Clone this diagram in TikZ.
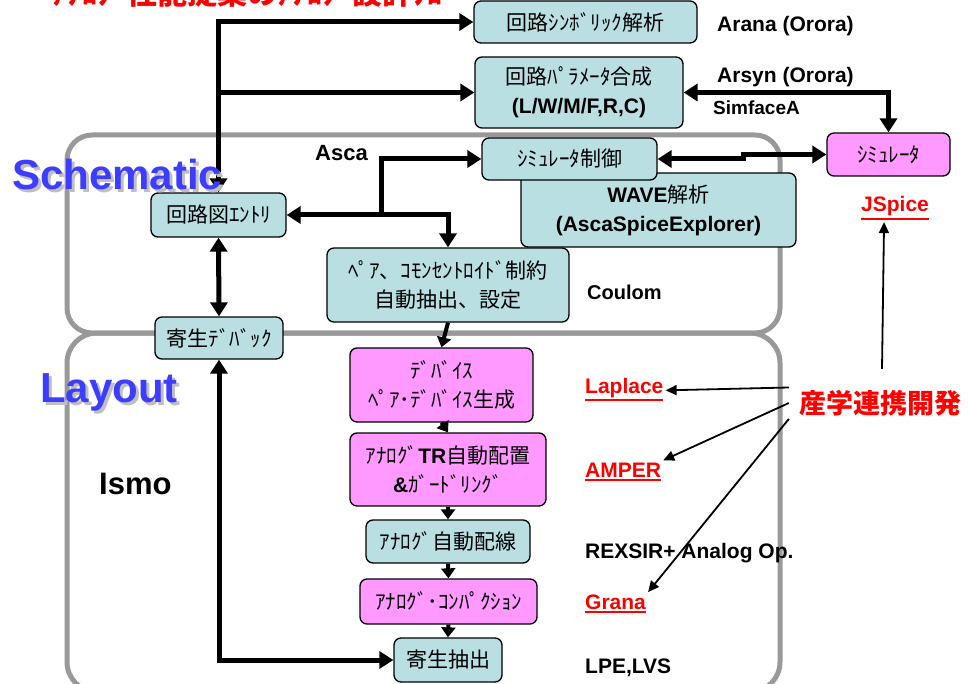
\documentclass[tikz,border=0pt]{standalone}
\usepackage{fontspec}
\setmainfont{Liberation Sans}
\newfontfamily\jpfont{Noto Sans CJK JP}
\usepackage{tikz}
\usetikzlibrary{arrows.meta}
\definecolor{boxteal}{RGB}{185, 223, 226}
\definecolor{boxpink}{RGB}{255, 153, 255}
\definecolor{groupgray}{RGB}{153, 153, 153}
\definecolor{headblue}{RGB}{61, 61, 255}
\newcommand{\en}[1]{{\rmfamily\bfseries #1}}
\newcommand{\undl}[1]{\vtop{\hbox{#1}\kern 1.5pt\hrule height 2pt}}
\tikzset{box/.style = {shape = rectangle, draw, line width = 1.3pt, rounded corners = 7pt, inner sep = 0pt, align = center, font = \jpfont\fontsize{21}{29}\selectfont}}
\tikzset{tealbox/.style = {box, fill = boxteal}}
\tikzset{pinkbox/.style = {box, fill = boxpink}}
\tikzset{edge/.style = {line width = 5pt, -{Triangle[length = 14pt, width = 17pt]}}}
\tikzset{twoway/.style = {line width = 5pt, {Triangle[length = 14pt, width = 17pt]}-{Triangle[length = 14pt, width = 17pt]}}}
\tikzset{chainedge/.style = {line width = 4pt, -{Triangle[length = 10pt, width = 14pt]}}}
\tikzset{thinedge/.style = {line width = 1.8pt, -{Triangle[length = 11pt, width = 10pt]}}}
\tikzset{group/.style = {draw = groupgray, line width = 5pt}}
\tikzset{tool/.style = {anchor = base west, inner sep = 2pt, font = \bfseries\fontsize{21}{25}\selectfont}}
\tikzset{redtool/.style = {tool, text = red}}
\tikzset{heading/.style = {anchor = base west, inner sep = 0pt, font = \bfseries\fontsize{42}{48}\selectfont}}

\begin{document}
\begin{tikzpicture}[x = 1pt, y = -1pt]
	\useasboundingbox (0, 0) rectangle (968, 684);
	\clip (0, 0) rectangle (968, 684);

	\draw[group, rounded corners = 25pt] (67, 135) rectangle (780, 333);
	\draw[group, rounded corners = 30pt] (67, 333) rectangle (780, 692);

	\node[anchor = south east, inner sep = 0pt, text = red, font = \jpfont\bfseries\fontsize{30}{30}\selectfont] (headline) at (458, 8) {ｱﾅﾛｸﾞ性能提案のｱﾅﾛｸﾞ設計ﾌﾛｰ};

	\node[tealbox, minimum width = 223pt, minimum height = 42pt] (symb) at (585.5, 22) {回路ｼﾝﾎﾞﾘｯｸ解析};
	\node[tealbox, minimum width = 208pt, minimum height = 71pt] (param) at (579, 92.5) {回路ﾊﾟﾗﾒｰﾀ合成\\\en{(L/W/M/F,R,C)}};
	\node[tealbox, minimum width = 275pt, minimum height = 74pt] (wave) at (658.5, 210) {\en{WAVE}解析\\\en{(AscaSpiceExplorer)}};
	\node[tealbox, minimum width = 175pt, minimum height = 42pt] (simctl) at (569.5, 159) {ｼﾐｭﾚｰﾀ制御};
	\node[tealbox, minimum width = 135pt, minimum height = 44pt] (entry) at (218.5, 215) {回路図ｴﾝﾄﾘ};
	\node[tealbox, minimum width = 128pt, minimum height = 42pt] (debug) at (219, 338) {寄生ﾃﾞﾊﾞｯｸ};
	\node[tealbox, minimum width = 242pt, minimum height = 74pt] (pair) at (448, 285) {ﾍﾟｱ、ｺﾓﾝｾﾝﾄﾛｲﾄﾞ制約\\自動抽出、設定};
	\node[pinkbox, minimum width = 183pt, minimum height = 74pt] (devgen) at (441.5, 385) {ﾃﾞﾊﾞｲｽ\\ﾍﾟｱ･ﾃﾞﾊﾞｲｽ生成};
	\node[pinkbox, minimum width = 196pt, minimum height = 73pt] (place) at (448, 469.5) {ｱﾅﾛｸﾞ\en{TR}自動配置\\\en{\&}ｶﾞｰﾄﾞﾘﾝｸﾞ};
	\node[tealbox, minimum width = 164pt, minimum height = 43pt] (route) at (448, 541.5) {ｱﾅﾛｸﾞ自動配線};
	\node[pinkbox, minimum width = 177pt, minimum height = 45pt] (compact) at (448.5, 601.5) {ｱﾅﾛｸﾞ･ｺﾝﾊﾟｸｼｮﾝ};
	\node[tealbox, minimum width = 108pt, minimum height = 44pt] (extract) at (448, 660) {寄生抽出};
	\node[pinkbox, minimum width = 123pt, minimum height = 43pt] (sim) at (888.5, 154.5) {ｼﾐｭﾚｰﾀ};

	\draw[twoway] (entry.north) |- (symb.west);
	\draw[edge] (entry.north |- param.west) to (param.west);
	\draw[twoway] (entry.east) -| (pair.north);
	\coordinate (ascafork) at (381, 215);
	\draw[edge] (ascafork) |- (simctl.west);
	\draw[twoway] (simctl.east) -- ++(86, 0) |- (sim.west);
	\draw[twoway] (param.east) -| (sim.north);
	\draw[twoway] (entry.south) to (debug.north);
	\draw[twoway] (debug.south) |- (extract.west);
	\foreach \a/\b in {pair/devgen, devgen/place, place/route, route/compact, compact/extract}
		\draw[chainedge] (\a.south) to (\b.north);

	\node[tool] (arana) at (715, 32) {Arana (Orora)};
	\node[tool] (arsyn) at (715, 83) {Arsyn (Orora)};
	\node[tool, font = \bfseries\fontsize{19}{23}\selectfont] (simface) at (711, 115) {SimfaceA};
	\node[tool, font = \bfseries\fontsize{22}{26}\selectfont] (asca) at (313, 161) {Asca};
	\node[tool, font = \bfseries\fontsize{20}{24}\selectfont] (coulom) at (585, 300) {Coulom};
	\node[redtool] (jspice) at (859, 212) {\undl{JSpice}};
	\node[tool, font = \bfseries\fontsize{31}{36}\selectfont] (ismo) at (97, 494) {Ismo};
	\node[redtool] (laplace) at (583, 393) {\undl{Laplace}};
	\node[redtool] (amper) at (583, 477) {\undl{AMPER}};
	\node[tool] (rexsir) at (583, 558) {REXSIR+ Analog Op.};
	\node[redtool] (grana) at (583, 609) {\undl{Grana}};
	\node[tool] (lpe) at (583, 673) {LPE,LVS};
	\node[inner sep = 0pt, text = red, font = \jpfont\bfseries\fontsize{27}{27}\selectfont] (sangaku) at (880, 403) {産学連携開発};

	\draw[thinedge] ([xshift = -10pt, yshift = 15.5pt]sangaku.west) to (laplace.mid east);
	\draw[thinedge] ([xshift = -10pt]sangaku.west) to (amper.north east);
	\draw[thinedge] ([xshift = -10pt, yshift = -16pt]sangaku.west) to (grana.north east);
	\draw[thinedge] ([xshift = 2pt, yshift = 21pt]sangaku.north) to ([xshift = -11pt]jspice.south);

	\node[heading, text = black!25] (schemshadow) at (15, 193) {Schematic};
	\node[heading, text = headblue] (schem) at (12, 190) {Schematic};
	\node[heading, text = black!25] (layoutshadow) at (43, 405) {Layout};
	\node[heading, text = headblue] (layout) at (40, 402) {Layout};
\end{tikzpicture}
\end{document}
